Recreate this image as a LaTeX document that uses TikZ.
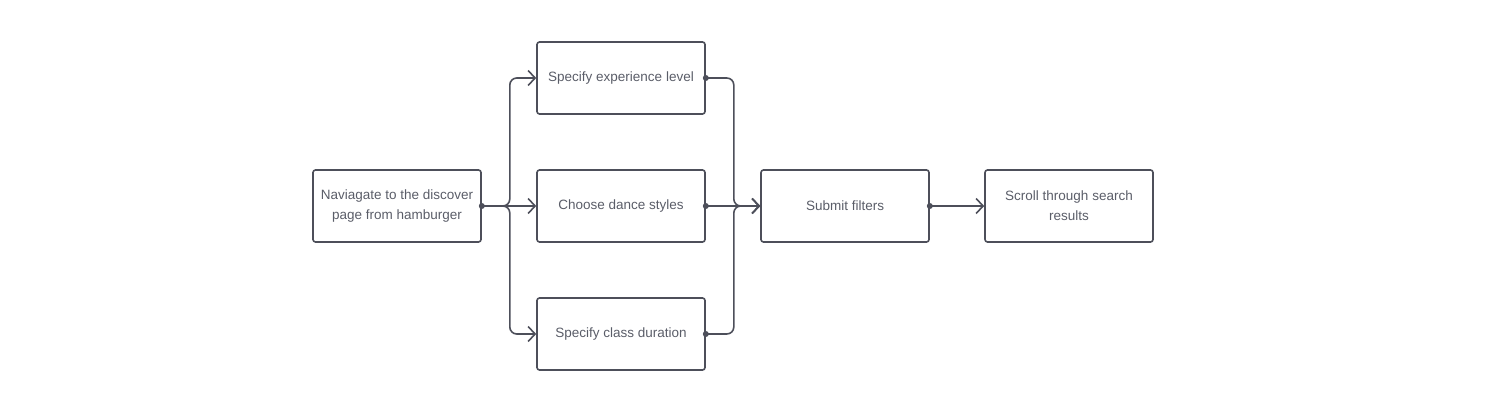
\documentclass[tikz,border=0pt]{standalone}
\usepackage{fontspec}
\setmainfont{Liberation Sans}
\usetikzlibrary{arrows.meta}
\definecolor{linec}{HTML}{4D4F5A}
\definecolor{textc}{HTML}{5A5D68}
\tikzset{
  box/.style={draw=linec, line width=1.6pt, rounded corners=2.5pt, minimum width=168pt, minimum height=72pt, inner sep=2pt, align=center, text=textc, font=\fontsize{13.5pt}{20pt}\selectfont},
  conn/.style={draw=linec, line width=1.6pt, rounded corners=7pt, -{Straight Barb[length=7pt,width=15pt,line width=1.6pt]}},
  dotc/.style={fill=linec, circle, inner sep=0pt, minimum size=6pt}
}
\begin{document}
\begin{tikzpicture}[x=1pt,y=-1pt]
\useasboundingbox (0,0) rectangle (1487,401);
\node[box] (A) at (397,206) {Naviagate to the discover\\page from hamburger};
\node[box] (B) at (621,78) {Specify experience level};
\node[box] (C) at (621,206) {Choose dance styles};
\node[box] (D) at (621,334) {Specify class duration};
\node[box] (E) at (845,206) {Submit filters};
\node[box] (F) at (1069,206) {Scroll through search\\results};
\draw[conn] (A.east) -- ++(28,0) |- (B.west);
\draw[conn] (A.east) -- (C.west);
\draw[conn] (A.east) -- ++(28,0) |- (D.west);
\draw[conn] (B.east) -- ++(28,0) |- (E.west);
\draw[conn] (C.east) -- (E.west);
\draw[conn] (D.east) -- ++(28,0) |- (E.west);
\draw[conn] (E.east) -- (F.west);
\foreach \n in {A,B,C,D,E} \node[dotc] at (\n.east) {};
\end{tikzpicture}
\end{document}
